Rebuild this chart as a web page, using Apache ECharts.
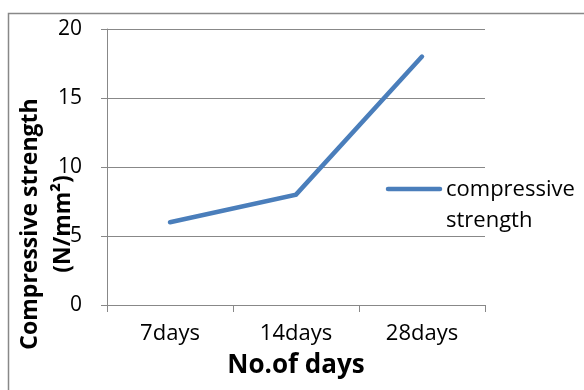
<!DOCTYPE html>
<html>
<head>
<meta charset="utf-8">
<script src="https://cdn.jsdelivr.net/npm/echarts@6/dist/echarts.min.js"></script>
<style>
  html, body { margin: 0; padding: 0; background: #fff; }
  #chart { width: 584px; height: 390px; }
</style>
</head>
<body>
<div id="chart"></div>
<script>
// Compressive strength at each curing age
const categories = ['7days', '14days', '28days'];
const strength = [6, 8, 18];
const seriesName = 'compressive strength';
const yTicks = { min: 0, max: 20, interval: 5 };

const FONT = '"Open Sans", sans-serif';
const chart = echarts.init(document.getElementById('chart'));

chart.setOption({
  animation: false,
  backgroundColor: '#ffffff',
  grid: { left: 107, right: 99, top: 29, bottom: 85 },
  xAxis: {
    type: 'category',
    data: categories,
    boundaryGap: true,
    axisLine: { show: true, lineStyle: { color: '#888888', width: 1 } },
    axisTick: { show: true, length: 7, alignWithLabel: false, lineStyle: { color: '#888888' } },
    axisLabel: { color: '#000', fontFamily: FONT, fontSize: 22, margin: 18 },
    splitLine: { show: false }
  },
  yAxis: {
    type: 'value',
    min: yTicks.min,
    max: yTicks.max,
    interval: yTicks.interval,
    axisLine: { show: true, lineStyle: { color: '#888888', width: 1 } },
    axisTick: { show: true, length: 6, inside: false, lineStyle: { color: '#888888' } },
    axisLabel: { color: '#000', fontFamily: FONT, fontSize: 21, margin: 25 },
    splitLine: { show: true, lineStyle: { color: '#888888', width: 1 } }
  },
  series: [{
    name: seriesName,
    type: 'line',
    data: strength,
    symbol: 'none',
    lineStyle: { color: '#4a7ebb', width: 4.5, cap: 'round', join: 'miter' },
    itemStyle: { color: '#4a7ebb' }
  }],
  graphic: [
    // chart frame edges
    { type: 'polyline', shape: { points: [[8.5, 390], [8.5, 13.5], [584, 13.5]] },
      style: { stroke: '#888888', lineWidth: 1.5, fill: null } },
    // legend entry
    { type: 'line', shape: { x1: 388, y1: 189, x2: 440, y2: 189 },
      style: { stroke: '#4a7ebb', lineWidth: 4.5, lineCap: 'round' } },
    { type: 'text', x: 446, y: 190,
      style: { text: 'compressive', fill: '#000', font: '22px ' + FONT,
               textAlign: 'left', textVerticalAlign: 'middle' } },
    { type: 'text', x: 446, y: 221,
      style: { text: 'strength', fill: '#000', font: '22px ' + FONT,
               textAlign: 'left', textVerticalAlign: 'middle' } },
    // axis titles
    { type: 'text', x: 30, y: 224, rotation: Math.PI / 2,
      style: { text: 'Compressive strength', fill: '#000', font: 'bold 23px ' + FONT,
               textAlign: 'center', textVerticalAlign: 'middle' } },
    { type: 'text', x: 63, y: 224, rotation: Math.PI / 2,
      style: { text: '(N/mm²)', fill: '#000', font: 'bold 23px ' + FONT,
               textAlign: 'center', textVerticalAlign: 'middle' } },
    { type: 'text', x: 296, y: 366,
      style: { text: 'No.of days', fill: '#000', font: 'bold 26px ' + FONT,
               textAlign: 'center', textVerticalAlign: 'middle' } }
  ]
});
</script>
</body>
</html>
